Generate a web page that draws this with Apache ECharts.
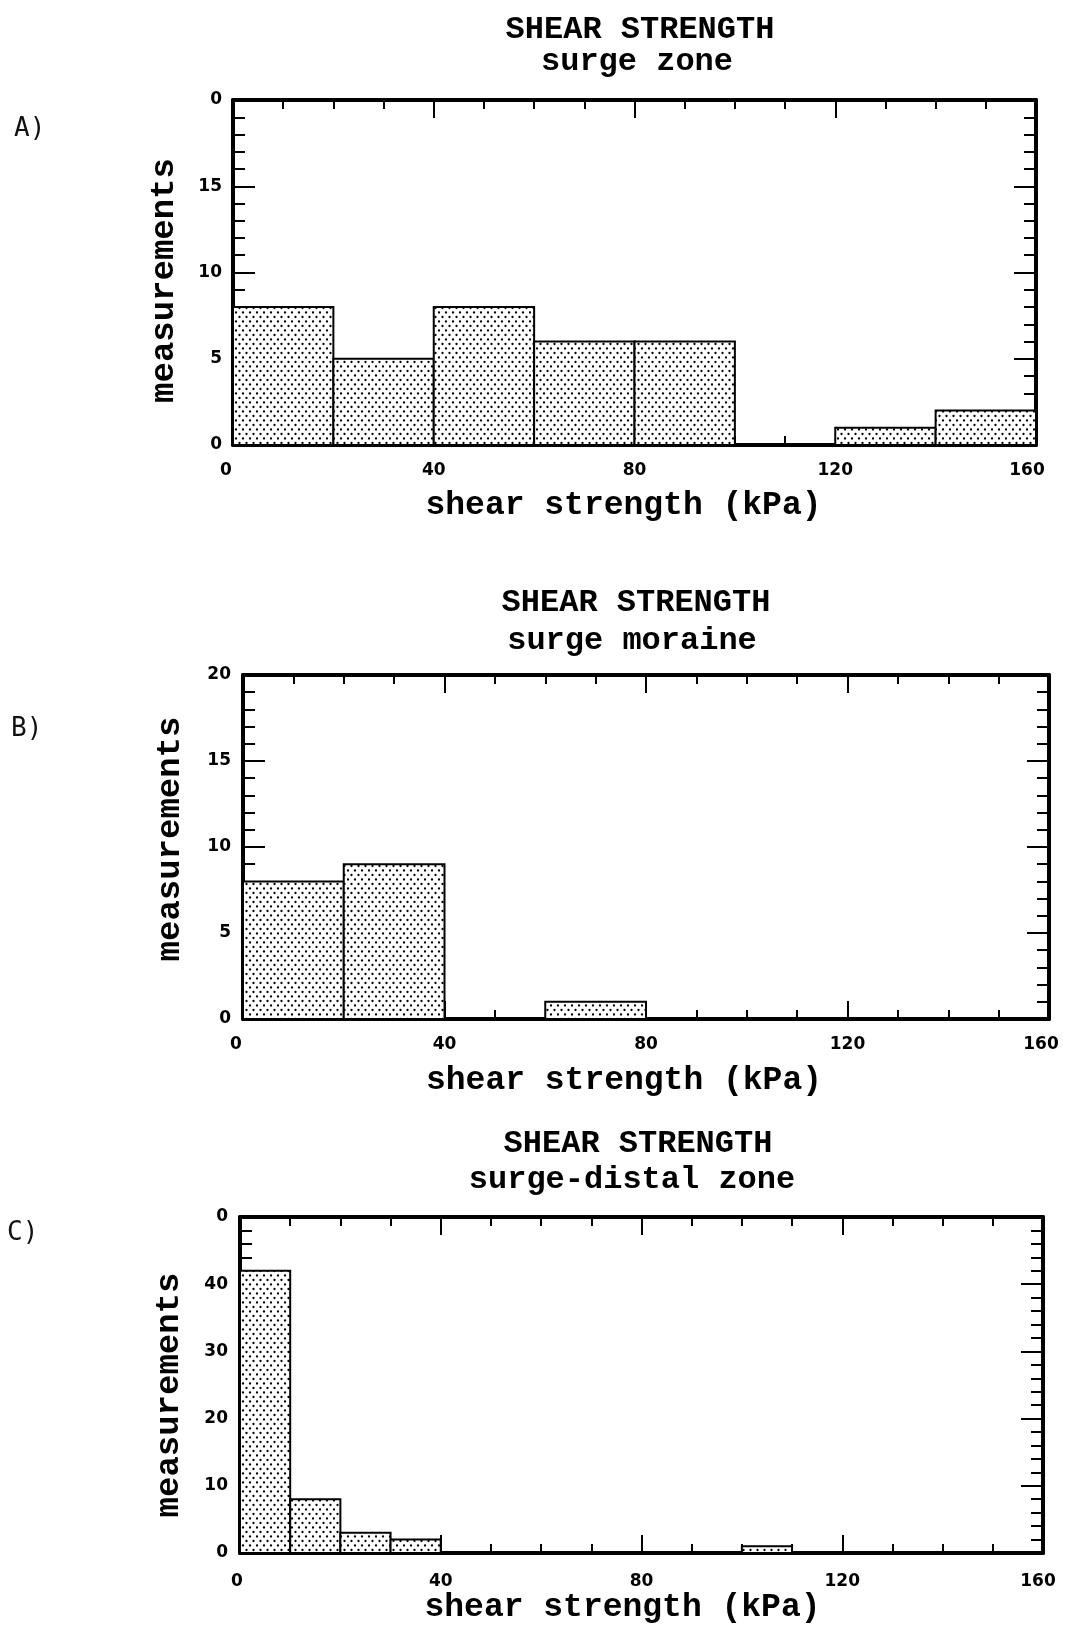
<!DOCTYPE html>
<html>
<head>
<meta charset="utf-8">
<title>Shear strength histograms</title>
<script src="https://cdn.jsdelivr.net/npm/echarts@6/dist/echarts.min.js"></script>
<style>
  html, body { margin: 0; padding: 0; background: #ffffff; }
  #chart { width: 1067px; height: 1625px; }
</style>
</head>
<body>
<div id="chart"></div>
<script>
// ---- data: histogram bins (kPa) and counts per bin ----
const binStartsA = [0, 20, 40, 60, 80, 100, 120, 140];
const binEndsA   = [20, 40, 60, 80, 100, 120, 140, 160];
const countsA    = [8, 5, 8, 6, 6, 0, 1, 2];

const binStartsB = [0, 20, 40, 60, 80, 100, 120, 140];
const binEndsB   = [20, 40, 60, 80, 100, 120, 140, 160];
const countsB    = [8, 9, 0, 1, 0, 0, 0, 0];

const binStartsC = [0, 10, 20, 30, 40, 50, 60, 70, 80, 90, 100, 110, 120, 130, 140, 150];
const binEndsC   = [10, 20, 30, 40, 50, 60, 70, 80, 90, 100, 110, 120, 130, 140, 150, 160];
const countsC    = [42, 8, 3, 2, 0, 0, 0, 0, 0, 0, 1, 0, 0, 0, 0, 0];

// ---- tick labels ----
const xTickValues = [0, 40, 80, 120, 160];
const xTickLabels = ['0', '40', '80', '120', '160'];
const yTickValuesA = [0, 5, 10, 15, 20];
const yTickLabelsA = ['0', '5', '10', '15', '0'];
const yTickValuesB = [0, 5, 10, 15, 20];
const yTickLabelsB = ['0', '5', '10', '15', '20'];
const yTickValuesC = [0, 10, 20, 30, 40, 50];
const yTickLabelsC = ['0', '10', '20', '30', '40', '0'];

const panelLetters = ['A)', 'B)', 'C)'];
const titleLine1 = ['SHEAR STRENGTH', 'SHEAR STRENGTH', 'SHEAR STRENGTH'];
const titleLine2 = ['surge zone', 'surge moraine', 'surge-distal zone'];
const xName = 'shear strength (kPa)';
const yName = 'measurements';

// ---- stipple fill ----
function makeStipple() {
  const c = document.createElement('canvas');
  c.width = 7; c.height = 9;
  const g = c.getContext('2d');
  g.fillStyle = '#ffffff';
  g.fillRect(0, 0, 7, 9);
  g.fillStyle = '#000000';
  [[1.5, 2], [5, 6.5]].forEach(function (p) {
    g.beginPath(); g.arc(p[0], p[1], 1.15, 0, Math.PI * 2); g.fill();
  });
  return c;
}
const stipple = { type: 'pattern', image: makeStipple(), repeat: 'repeat' };

const MONO = '"Liberation Mono", "Courier New", monospace';
const SANS = '"DejaVu Sans", "Liberation Sans", sans-serif';
const tickFont = { fontFamily: SANS, fontWeight: 'bold', fontSize: 17, color: '#000' };

// ---- panel layout ----
const panels = [
  { grid: { left: 233, top: 100, width: 803, height: 345 },
    starts: binStartsA, ends: binEndsA, counts: countsA,
    yVals: yTickValuesA, yLabs: yTickLabelsA, yInterval: 5, yMinor: 5,
    xMargin: 17, yMargin: 11, xGap: 44, yGap: 52, xShift: 11, yShift: -8,
    firstPad: 14, lastPad: 18,
    letter: [14, 129], t1: [640, 30], t2: [637, 62] },
  { grid: { left: 243, top: 675, width: 806, height: 344 },
    starts: binStartsB, ends: binEndsB, counts: countsB,
    yVals: yTickValuesB, yLabs: yTickLabelsB, yInterval: 5, yMinor: 5,
    xMargin: 17, yMargin: 12, xGap: 45, yGap: 56, xShift: 22, yShift: 8,
    firstPad: 14, lastPad: 16,
    letter: [11, 729], t1: [636, 603], t2: [632, 641] },
  { grid: { left: 240, top: 1217, width: 803, height: 336 },
    starts: binStartsC, ends: binEndsC, counts: countsC,
    yVals: yTickValuesC, yLabs: yTickLabelsC, yInterval: 10, yMinor: 5,
    xMargin: 20, yMargin: 12, xGap: 37, yGap: 54, xShift: 19, yShift: -10,
    firstPad: 6, lastPad: 10,
    letter: [7, 1233], t1: [638, 1144], t2: [632, 1180] }
];

const frameLine = { show: true, onZero: false, lineStyle: { color: '#000', width: 4 } };
const tickStyle = { color: '#000', width: 2 };

const grids = [], xAxes = [], yAxes = [], series = [], graphics = [];

panels.forEach(function (p, i) {
  grids.push(Object.assign({ outerBoundsMode: 'none', containLabel: false }, p.grid));
  const xBase = {
    type: 'value', gridIndex: i, min: xTickValues[0], max: xTickValues[xTickValues.length - 1],
    interval: 40, splitLine: { show: false }, axisLine: frameLine,
    axisTick: { show: true, inside: true, length: 18, lineStyle: tickStyle },
    minorTick: { show: true, splitNumber: 4, length: 9, lineStyle: tickStyle }
  };
  const lastX = xTickValues.length - 1;
  xAxes.push(Object.assign({}, xBase, {
    position: 'bottom',
    name: xName, nameLocation: 'middle', nameGap: p.xGap,
    nameTextStyle: { fontFamily: MONO, fontWeight: 'bold', fontSize: 33, color: '#000',
                     padding: [0, 2 * p.xShift, 0, 0] },
    axisLabel: Object.assign({
      show: true, margin: p.xMargin, showMinLabel: true, showMaxLabel: true,
      rich: {
        first: Object.assign({ padding: [0, p.firstPad, 0, 0] }, tickFont),
        last: Object.assign({ padding: [0, p.lastPad, 0, 0] }, tickFont)
      },
      formatter: function (v) {
        const k = xTickValues.indexOf(v);
        if (k < 0) return '';
        if (k === 0) return '{first|' + xTickLabels[k] + '}';
        if (k === lastX) return '{last|' + xTickLabels[k] + '}';
        return xTickLabels[k];
      }
    }, tickFont)
  }));
  xAxes.push(Object.assign({}, xBase, { position: 'top', axisLabel: { show: false } }));

  const yMax = p.yVals[p.yVals.length - 1];
  const yBase = {
    type: 'value', gridIndex: i, min: p.yVals[0], max: yMax, interval: p.yInterval,
    splitLine: { show: false }, axisLine: frameLine,
    axisTick: { show: true, inside: true, length: 22, lineStyle: tickStyle },
    minorTick: { show: true, splitNumber: p.yMinor, length: 12, lineStyle: tickStyle }
  };
  const yPad = p.yShift > 0 ? [0, 0, 0, 2 * p.yShift] : [0, 2 * -p.yShift, 0, 0];
  yAxes.push(Object.assign({}, yBase, {
    position: 'left',
    name: yName, nameLocation: 'middle', nameGap: p.yGap, nameRotate: 90,
    nameTextStyle: { fontFamily: MONO, fontWeight: 'bold', fontSize: 34, color: '#000', padding: yPad },
    axisLabel: Object.assign({
      show: true, margin: p.yMargin, showMinLabel: true, showMaxLabel: true,
      formatter: function (v) { const k = p.yVals.indexOf(v); return k >= 0 ? p.yLabs[k] : ''; }
    }, tickFont)
  }));
  yAxes.push(Object.assign({}, yBase, { position: 'right', axisLabel: { show: false } }));

  const data = p.starts.map(function (s, k) { return [s, p.ends[k], p.counts[k]]; });
  series.push({
    type: 'custom', xAxisIndex: 2 * i, yAxisIndex: 2 * i, z: 1,
    encode: { x: [0, 1], y: 2 },
    data: data,
    renderItem: function (params, api) {
      const v = api.value(2);
      if (!v) return null;
      const topLeft = api.coord([api.value(0), v]);
      const botRight = api.coord([api.value(1), 0]);
      return {
        type: 'rect',
        shape: { x: topLeft[0], y: topLeft[1], width: botRight[0] - topLeft[0], height: botRight[1] - topLeft[1] },
        style: { fill: stipple, stroke: '#000', lineWidth: 2 }
      };
    }
  });

  graphics.push({
    type: 'text', x: p.letter[0], y: p.letter[1],
    style: { text: panelLetters[i], font: '26px "DejaVu Sans Mono", monospace', fill: '#111',
             textAlign: 'left', textVerticalAlign: 'middle' }
  });
  graphics.push({
    type: 'text', x: p.t1[0], y: p.t1[1],
    style: { text: titleLine1[i], font: 'bold 32px ' + MONO, fill: '#000',
             textAlign: 'center', textVerticalAlign: 'middle' }
  });
  graphics.push({
    type: 'text', x: p.t2[0], y: p.t2[1],
    style: { text: titleLine2[i], font: 'bold 32px ' + MONO, fill: '#000',
             textAlign: 'center', textVerticalAlign: 'middle' }
  });
});

const chart = echarts.init(document.getElementById('chart'), null, { renderer: 'canvas' });
chart.setOption({
  backgroundColor: '#ffffff',
  animation: false,
  grid: grids,
  xAxis: xAxes,
  yAxis: yAxes,
  series: series,
  graphic: graphics
});
</script>
</body>
</html>
